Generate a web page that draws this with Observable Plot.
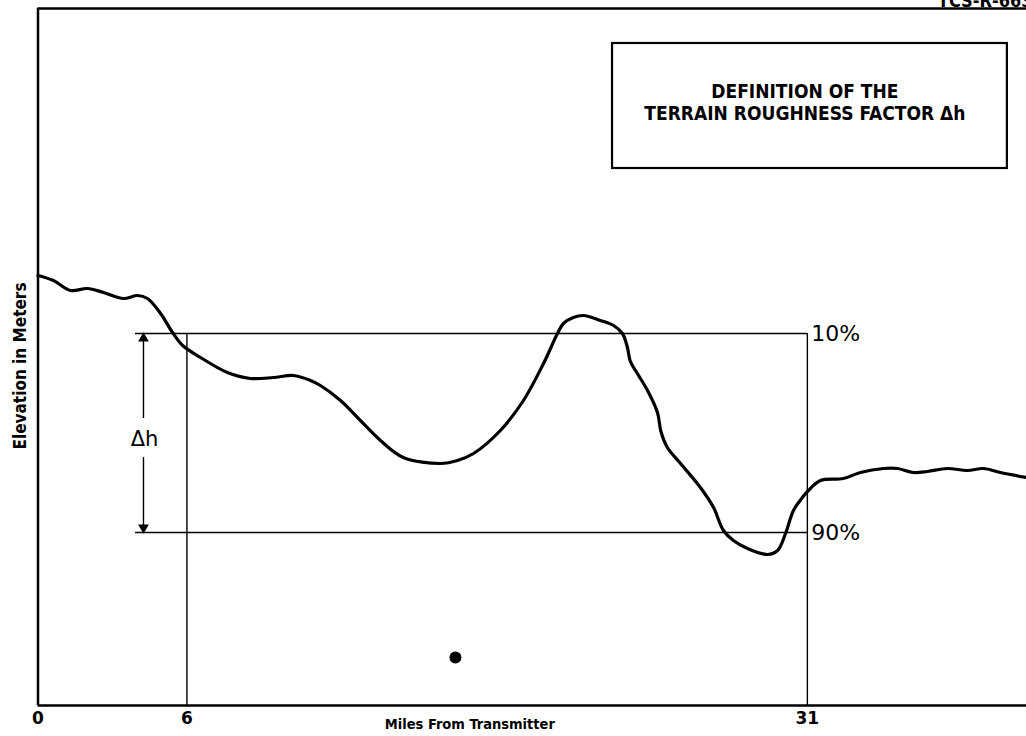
<!DOCTYPE html>
<html><head><meta charset="utf-8">
<script src="https://cdn.jsdelivr.net/npm/d3@7"></script>
<script src="https://cdn.jsdelivr.net/npm/@observablehq/plot@0.6"></script>
<style>body{margin:0;background:#fff;} #chart svg{display:block}</style>
</head><body><div id="chart"></div>
<script>
// Terrain profile (miles from transmitter, relative elevation)
const terrainMiles = [0, 0.62, 1.31, 1.99, 2.64, 3.44, 4.01, 4.41, 4.94, 5.42, 5.83, 6.55, 7.63, 8.56, 9.49, 10.29, 10.98, 11.38, 12.19, 12.99, 13.80, 14.72, 16.22, 16.90, 17.55, 18.63, 19.56, 20.37, 20.93, 21.17, 21.57, 21.98, 22.66, 23.19, 23.55, 23.75, 23.87, 24.15, 24.56, 24.96, 25.10, 25.36, 25.89, 26.69, 27.22, 27.62, 28.02, 28.59, 29.39, 29.80, 30.12, 30.44, 30.80, 31.04, 31.53, 32.45, 33.14, 34.07, 34.63, 35.27, 35.84, 36.64, 37.45, 38.09, 38.78, 39.83];
const terrainElev  = [430, 425, 415, 417, 413, 407, 410, 407, 392, 373, 360, 348, 333, 327, 328, 330, 325, 320, 305, 285, 265, 248, 242, 245, 252, 275, 305, 342, 372, 382, 388, 390, 385, 380, 372, 358, 344, 332, 315, 293, 274, 258, 242, 218, 198, 175, 165, 157, 151, 155, 172, 195, 208, 215, 225, 227, 233, 237, 237, 233, 234, 237, 235, 237, 233, 228];
const xTicks = [0, 6, 31];
const rangeStart = 6, rangeEnd = 31;
const p10 = 372, p90 = 173;
const percentLabels = ["10%", "90%"];
const percentValues = [p10, p90];
const deltaLabel = "Δh";
const titleLines = ["DEFINITION OF THE", "TERRAIN ROUGHNESS FACTOR Δh"];
const xLabel = "Miles From Transmitter";
const yLabel = "Elevation in Meters";
const docId = "TCS-R-663";
const dotMiles = [16.82];
const dotElev = [48];

const terrain = terrainMiles.map((m, i) => ({mile: m, elev: terrainElev[i]}));
const pct = percentLabels.map((t, i) => ({label: t, elev: percentValues[i]}));
const dots = dotMiles.map((m, i) => ({mile: m, elev: dotElev[i]}));
const font = "'DejaVu Sans Condensed', 'DejaVu Sans', sans-serif";
const narrow = "'Liberation Sans Narrow', 'DejaVu Sans Condensed', sans-serif";
const plain = "'DejaVu Sans', sans-serif";
const arrowX = 4.25;

const chart = Plot.plot({
  width: 1026, height: 736,
  marginLeft: 37.5, marginRight: 0, marginTop: 8, marginBottom: 31,
  x: {domain: [0, 39.83], axis: null},
  y: {domain: [0, 697], axis: null},
  style: {fontFamily: font, background: "#fff", color: "#000", overflow: "visible"},
  marks: [
    // percentile box
    Plot.ruleY(pct, {y: "elev", x1: 3.93, x2: rangeEnd, stroke: "#000", strokeWidth: 1.4}),
    Plot.ruleX([rangeStart, rangeEnd], {y1: 0, y2: p10, stroke: "#000", strokeWidth: 1.4}),
    // delta h arrow
    Plot.ruleX([arrowX], {y1: 287, y2: p10 - 6, stroke: "#000", strokeWidth: 1.4}),
    Plot.ruleX([arrowX], {y1: 248, y2: p90 + 6, stroke: "#000", strokeWidth: 1.4}),
    Plot.dot([p10], {x: arrowX, y: d => d, dy: 5, symbol: "triangle", r: 4, fill: "#000", stroke: null}),
    Plot.dot([p90], {x: arrowX, y: d => d, dy: -5, symbol: "triangle", rotate: 180, r: 4, fill: "#000", stroke: null}),
    Plot.text([deltaLabel], {x: arrowX, y: 266, fontSize: 21, fontFamily: plain, dx: 1}),
    Plot.text(pct, {x: rangeEnd, y: "elev", text: "label", dx: 4, textAnchor: "start", fontSize: 22, fontWeight: 500, fontFamily: plain}),
    // terrain
    Plot.line(terrain, {x: "mile", y: "elev", curve: "catmull-rom", stroke: "#000", strokeWidth: 3.2}),
    Plot.dot(dots, {x: "mile", y: "elev", r: 6, fill: "#000", stroke: null}),
    // frame
    Plot.ruleY([0], {stroke: "#000", strokeWidth: 2.5}),
    Plot.ruleY([697], {stroke: "#000", strokeWidth: 2.5}),
    Plot.ruleX([0], {stroke: "#000", strokeWidth: 2.5}),
    // axes
    Plot.axisX(xTicks, {tickSize: 0, tickPadding: 6, fontSize: 17, fontWeight: "bold", label: null, fontFamily: plain}),
    Plot.text([xLabel], {x: 17.4, y: 0, dy: 19, fontSize: 14.5, fontWeight: "bold", fontFamily: narrow, lineAnchor: "middle"}),
    Plot.text([yLabel], {frameAnchor: "left", dx: -17, dy: 9, rotate: -90, textAnchor: "middle", fontSize: 17, fontWeight: "bold", fontFamily: narrow}),
    // title box
    Plot.rect([0], {x1: 23.15, x2: 39.06, y1: 537, y2: 662, fill: "none", stroke: "#000", strokeWidth: 2.2}),
    Plot.text([titleLines.join("\n")], {x: 30.9, y: 604, fontSize: 19, fontWeight: "bold", fontFamily: narrow, lineHeight: 1.17}),
    Plot.text([docId], {frameAnchor: "top-right", dx: 6, dy: -2, lineAnchor: "bottom", textAnchor: "end", fontSize: 18, fontWeight: "bold"})
  ]
});
document.getElementById("chart").appendChild(chart);
</script>
</body></html>
